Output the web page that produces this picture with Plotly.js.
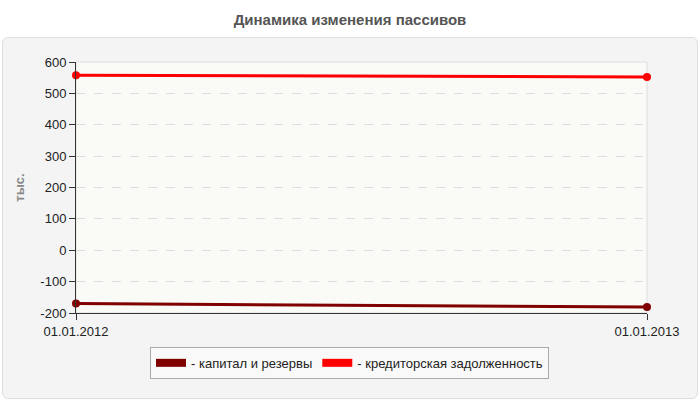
<!DOCTYPE html>
<html>
<head>
<meta charset="utf-8">
<script src="https://cdn.plot.ly/plotly-3.0.1.min.js"></script>
<style>
  body { margin: 0; background: #fff; }
  #wrap { position: relative; width: 700px; height: 400px; }
  #panel {
    position: absolute; left: 2px; top: 37px; width: 694px; height: 360px;
    background: #f4f4f4; border: 1px solid #dedede; border-radius: 6px;
  }
  #graph { position: absolute; left: 0; top: 0; width: 700px; height: 400px; }
</style>
</head>
<body>
<div id="wrap">
  <div id="panel"></div>
  <div id="graph"></div>
</div>
<script>
// dates on the x axis
const dates = ['01.01.2012', '01.01.2013']

// series values, thousands
const capital = [-170, -181]
const creditors = [558, 552]

// y ticks
const yTicks = [-200, -100, 0, 100, 200, 300, 400, 500, 600]

const seriesNames = ['- капитал и резервы', '- кредиторская задолженность']
const seriesColors = ['#800000', '#ff0000']
const seriesValues = [capital, creditors]

const data = []
// the lines themselves
seriesValues.forEach(function(vals, i) {
  data.push({
    x: dates,
    y: vals,
    type: 'scatter',
    mode: 'lines+markers',
    line: {color: seriesColors[i], width: 3},
    marker: {color: seriesColors[i], size: 8},
    cliponaxis: false,
    showlegend: false,
    hoverinfo: 'skip'
  })
})
// legend-only swatches
seriesValues.forEach(function(vals, i) {
  data.push({
    x: [null],
    y: [null],
    type: 'scatter',
    mode: 'lines',
    name: seriesNames[i],
    line: {color: seriesColors[i], width: 8}
  })
})

const layout = {
  width: 700,
  height: 400,
  title: {
    text: '<b>Динамика изменения пассивов</b>',
    font: {family: 'Liberation Sans, Arial, sans-serif', size: 15, color: '#555'},
    x: 0.5,
    xanchor: 'center',
    y: 0.95,
    yanchor: 'middle'
  },
  paper_bgcolor: 'rgba(0,0,0,0)',
  plot_bgcolor: '#fafaf6',
  margin: {l: 76, r: 53, t: 62, b: 87, pad: 0},
  font: {family: 'Liberation Sans, Arial, sans-serif', size: 13, color: '#222'},
  showlegend: true,
  legend: {
    orientation: 'h',
    x: 0.479,
    xanchor: 'center',
    y: -0.135,
    yanchor: 'top',
    bgcolor: '#f9f9f9',
    bordercolor: '#aaaaaa',
    borderwidth: 1,
    font: {size: 13, color: '#222'},
    itemwidth: 30
  },
  xaxis: {
    type: 'category',
    range: [0, 1],
    showgrid: false,
    zeroline: false,
    showline: true,
    linecolor: '#333',
    linewidth: 1,
    ticks: 'outside',
    ticklen: 6,
    tickcolor: '#333',
    tickfont: {size: 13, color: '#222'},
    fixedrange: true
  },
  yaxis: {
    title: {
      text: '<b>тыс.</b>',
      font: {size: 13, color: '#888'},
      standoff: 12
    },
    range: [-200, 600],
    tickvals: yTicks,
    ticktext: yTicks.map(String),
    showgrid: true,
    gridcolor: '#dddddd',
    griddash: 'dash',
    zeroline: false,
    showline: true,
    linecolor: '#333',
    linewidth: 1,
    ticks: 'outside',
    ticklen: 6,
    tickcolor: '#333',
    tickfont: {size: 13, color: '#222'},
    fixedrange: true
  },
  shapes: [
    // light frame around the plot area
    {type: 'rect', xref: 'paper', yref: 'paper', x0: 0, x1: 1, y0: 0, y1: 1,
     line: {color: '#dddddd', width: 1}, layer: 'below'}
  ]
}

Plotly.newPlot('graph', data, layout, {displayModeBar: false, staticPlot: true})
</script>
</body>
</html>
